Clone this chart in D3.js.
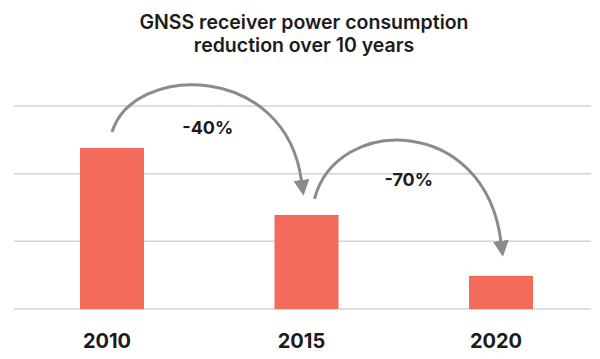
<!DOCTYPE html>
<html>
<head>
<meta charset="utf-8">
<script src="https://cdn.jsdelivr.net/npm/d3@7"></script>
<style>
  body { margin: 0; background: #fff; }
  text { font-family: Inter, "Noto Sans", sans-serif; fill: #1c1c1c; }
</style>
</head>
<body>
<div id="chart"></div>
<script>
var width = 600, height = 359;

var titleLines = ["GNSS receiver power consumption", "reduction over 10 years"];
var years = ["2010", "2015", "2020"];
var power = [2.38, 1.39, 0.49];        // relative units, gridline = 1
var gridTicks = [0, 1, 2, 3];
var changes = [
  { from: "2010", to: "2015", label: "-40%" },
  { from: "2015", to: "2020", label: "-70%" }
];

var barColor = "#f26b5b",
    gridColor = "#d3d3d3",
    arrowColor = "#8b8b8b";

// hand tweaks for the arrows: start/end shift along x, arc lift
var arrowLayout = [
  { dx0: 0, dx1: -5, lift: 94 },
  { dx0: 8, dx1: 0, lift: 106 }
];

var svg = d3.select("#chart").append("svg")
    .attr("width", width)
    .attr("height", height);

var x = d3.scaleBand()
    .domain(years)
    .range([80, 533])
    .paddingInner(0.671)
    .paddingOuter(0);

var y = d3.scaleLinear()
    .domain([0, 3])
    .range([309, 106]);

// title
svg.append("text")
    .attr("text-anchor", "middle")
    .style("font-size", "19.5px")
    .style("font-weight", 600)
    .selectAll("tspan")
    .data(titleLines)
  .enter().append("tspan")
    .attr("x", 304)
    .attr("y", function (d, i) { return 29 + i * 22.5; })
    .text(function (d) { return d; });

// gridlines
svg.append("g")
  .selectAll("line")
    .data(gridTicks)
  .enter().append("line")
    .attr("x1", 14)
    .attr("x2", 591)
    .attr("y1", function (d) { return y(d); })
    .attr("y2", function (d) { return y(d); })
    .style("stroke", gridColor)
    .style("stroke-width", "1.5px");

// bars
svg.append("g")
  .selectAll("rect")
    .data(years)
  .enter().append("rect")
    .attr("x", function (d) { return x(d); })
    .attr("y", function (d, i) { return y(power[i]); })
    .attr("width", x.bandwidth())
    .attr("height", function (d, i) { return y(0) - y(power[i]); })
    .style("fill", barColor);

// year labels
svg.append("g")
  .selectAll("text")
    .data(years)
  .enter().append("text")
    .attr("x", function (d) { return x(d) + x.bandwidth() / 2 - 5; })
    .attr("y", 348)
    .attr("text-anchor", "middle")
    .style("font-size", "20px")
    .style("font-weight", 700)
    .text(function (d) { return d; });

// arrow marker
svg.append("defs").append("marker")
    .attr("id", "head")
    .attr("markerUnits", "userSpaceOnUse")
    .attr("viewBox", "0 -8 16 16")
    .attr("refX", 1)
    .attr("refY", 0)
    .attr("markerWidth", 16)
    .attr("markerHeight", 16)
    .attr("orient", "auto")
  .append("path")
    .attr("d", "M0,-8L16,0L0,8Z")
    .style("fill", arrowColor);

// curved arrows: leave the top of one bar, land above the next
var arrows = svg.append("g");
changes.forEach(function (c, k) {
  var lay = arrowLayout[k];
  var i0 = years.indexOf(c.from), i1 = years.indexOf(c.to);
  var x0 = x(c.from) + x.bandwidth() / 2 + lay.dx0,
      x1 = x(c.to) + x.bandwidth() / 2 + lay.dx1,
      y0 = y(power[i0]) - 16,
      y1 = y(power[i1]) - 34;
  var ctrl = (y0 + y1) / 2 - lay.lift;
  var path = d3.path();
  path.moveTo(x0, y0);
  path.bezierCurveTo(x0 + 22, ctrl, x1 - 16, ctrl, x1, y1);
  arrows.append("path")
      .attr("d", path.toString())
      .style("fill", "none")
      .style("stroke", arrowColor)
      .style("stroke-width", "3px")
      .attr("marker-end", "url(#head)");

  arrows.append("text")
      .attr("x", (x0 + x1) / 2 + 1)
      .attr("y", ctrl + 72)
      .attr("text-anchor", "middle")
      .style("font-size", "18px")
      .style("font-weight", 700)
      .text(c.label);
});
</script>
</body>
</html>
